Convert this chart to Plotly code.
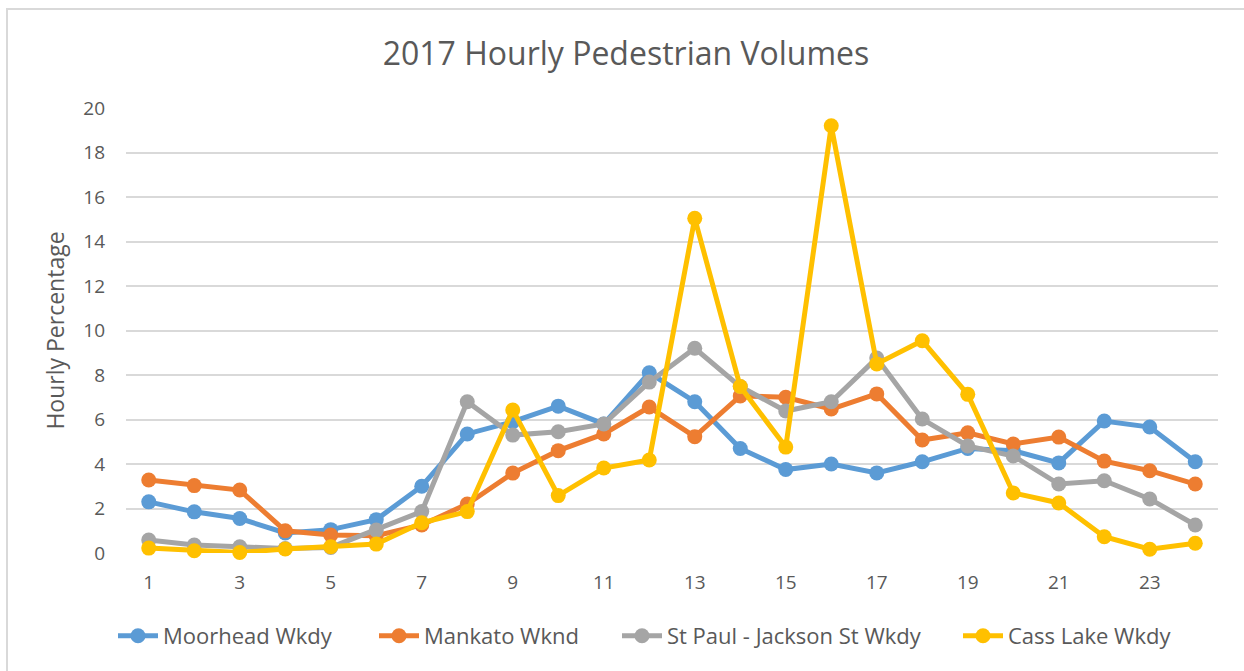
import plotly.graph_objects as go

hours = list(range(1, 25))
tick_hours = [1, 3, 5, 7, 9, 11, 13, 15, 17, 19, 21, 23]

moorhead = [2.3, 1.85, 1.55, 0.9, 1.05, 1.5, 3.0, 5.35, 5.9, 6.6, 5.8, 8.1,
            6.8, 4.7, 3.75, 4.0, 3.6, 4.1, 4.7, 4.6, 4.05, 5.93, 5.66, 4.1]
mankato = [3.28, 3.03, 2.83, 1.0, 0.81, 0.78, 1.26, 2.2, 3.59, 4.6, 5.35, 6.56,
           5.23, 7.06, 7.0, 6.47, 7.15, 5.08, 5.4, 4.9, 5.21, 4.13, 3.7, 3.1]
stpaul = [0.58, 0.36, 0.28, 0.2, 0.25, 1.03, 1.86, 6.8, 5.3, 5.45, 5.8, 7.68,
          9.2, 7.48, 6.38, 6.8, 8.76, 6.02, 4.81, 4.36, 3.1, 3.25, 2.43, 1.26]
casslake = [0.22, 0.1, 0.02, 0.18, 0.28, 0.4, 1.36, 1.86, 6.43, 2.58, 3.82, 4.18,
            15.04, 7.48, 4.76, 19.2, 8.5, 9.54, 7.13, 2.7, 2.25, 0.73, 0.17, 0.44]

series_names = ["Moorhead Wkdy", "Mankato Wknd", "St Paul - Jackson St Wkdy", "Cass Lake Wkdy"]
series_values = [moorhead, mankato, stpaul, casslake]
colors = ["#5B9BD5", "#ED7D31", "#A5A5A5", "#FFC000"]

title_text = "2017 Hourly Pedestrian Volumes"
y_title = "Hourly Percentage"

FONT = "Open Sans"
TXT = "#595959"

L, R, T, B = 126, 26, 108, 118
W, H = 1244, 671
pw, ph = W - L - R, H - T - B

# legend text start positions (px) in the reference
legend_text_px = [163, 424, 667, 1008]
legend_ids = ["legend", "legend2", "legend3", "legend4"]

fig = go.Figure()
for name, vals, col, lg in zip(series_names, series_values, colors, legend_ids):
    fig.add_trace(go.Scatter(
        x=hours, y=vals, name=name, mode="lines+markers",
        line=dict(color=col, width=5),
        marker=dict(color=col, size=15),
        cliponaxis=False, legend=lg,
    ))

legend_layout = {}
for lg, tx in zip(legend_ids, legend_text_px):
    legend_layout[lg] = dict(
        orientation="h", x=(tx - 50 - L) / pw, xanchor="left",
        y=-(636 - 553) / ph, yanchor="middle",
        font=dict(family=FONT, size=22, color=TXT),
        itemwidth=40, bgcolor="rgba(0,0,0,0)",
    )

fig.update_layout(
    width=W, height=H,
    margin=dict(l=L, r=R, t=T, b=B),
    paper_bgcolor="white", plot_bgcolor="white",
    font=dict(family=FONT, color=TXT, size=18),
    title=dict(text=title_text, x=(626 / W), xanchor="center",
               y=1 - 54 / H, yanchor="middle",
               font=dict(family=FONT, size=32, color=TXT)),
    showlegend=True,
    shapes=[dict(type="rect", xref="paper", yref="paper",
                 x0=(7 - L) / pw, x1=(1260 - L) / pw,
                 y0=(553 - 690) / ph, y1=(553 - 9) / ph,
                 line=dict(color="#D9D9D9", width=2), fillcolor="rgba(0,0,0,0)",
                 layer="below")],
    **legend_layout,
)

fig.update_xaxes(range=[0.5, 24.5], tickmode="array", tickvals=tick_hours,
                 ticktext=[str(h) for h in tick_hours],
                 showgrid=False, zeroline=False, showline=False,
                 ticks="", ticklabelstandoff=16,
                 tickfont=dict(family=FONT, size=19, color=TXT))
fig.update_yaxes(range=[0, 20], dtick=2, showgrid=True, gridcolor="#D9D9D9",
                 gridwidth=2, zeroline=False, showline=False, ticks="",
                 ticklabelstandoff=20,
                 tickfont=dict(family=FONT, size=19, color=TXT),
                 title=dict(text=y_title, standoff=12,
                            font=dict(family=FONT, size=23, color=TXT)))

fig.write_html("out.html", config={"displayModeBar": False},
               post_script="document.body.style.margin='0';")
